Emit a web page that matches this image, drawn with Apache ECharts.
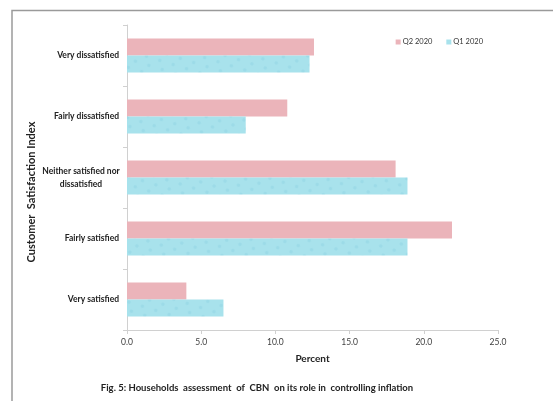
<!DOCTYPE html>
<html>
<head>
<meta charset="utf-8">
<script src="https://cdn.jsdelivr.net/npm/echarts@6/dist/echarts.min.js"></script>
<style>
  html, body { margin: 0; padding: 0; background: #fff; }
  #chart { width: 553px; height: 401px; }
</style>
</head>
<body>
<div id="chart"></div>
<script>
// Satisfaction categories, listed bottom to top as drawn on the vertical axis
const categories = [
  'Very satisfied',
  'Fairly satisfied',
  'Neither satisfied nor\ndissatisfied',
  'Fairly dissatisfied',
  'Very dissatisfied'
];
// Percent of households per category
const q1_2020 = [6.5, 18.9, 18.9, 8.0, 12.3];
const q2_2020 = [4.0, 21.9, 18.1, 10.8, 12.6];
const xTicks = [0, 5, 10, 15, 20, 25];

const FONT = 'Lato, "Open Sans", sans-serif';
const labelBase = { fontFamily: FONT, fontSize: 8.5, fontWeight: 'bold', color: '#222', lineHeight: 13 };

const chart = echarts.init(document.getElementById('chart'), null, { renderer: 'canvas' });

chart.setOption({
  animation: false,
  backgroundColor: '#ffffff',
  grid: { left: 127, right: 55, top: 25, bottom: 71, containLabel: false },
  legend: {
    data: ['Q2 2020', 'Q1 2020'],
    right: 65,
    top: 33,
    itemWidth: 5,
    itemHeight: 5,
    itemGap: 14,
    icon: 'rect',
    textStyle: { fontFamily: FONT, fontSize: 7.5, color: '#333', padding: [0, 0, 0, -3] }
  },
  xAxis: {
    type: 'value',
    min: xTicks[0],
    max: xTicks[xTicks.length - 1],
    interval: 5,
    name: 'Percent',
    nameLocation: 'middle',
    nameGap: 24,
    nameTextStyle: { fontFamily: FONT, fontSize: 10, fontWeight: 'bold', color: '#222' },
    axisLine: { show: true, lineStyle: { color: '#d0d0d0' } },
    axisTick: { show: true, length: 4, lineStyle: { color: '#d0d0d0' } },
    axisLabel: {
      fontFamily: FONT, fontSize: 8.5, color: '#404040', margin: 8,
      formatter: v => v.toFixed(1)
    },
    splitLine: { show: false }
  },
  yAxis: {
    type: 'category',
    data: categories,
    axisLine: { show: true, lineStyle: { color: '#d0d0d0' } },
    axisTick: { show: true, length: 4, lineStyle: { color: '#d0d0d0' } },
    axisLabel: {
      margin: 8,
      // multi-line label is centred line by line; single-line labels sit flush right
      formatter: v => (v.indexOf('\n') >= 0 ? '{c|' + v + '}' : '{r|' + v + '}'),
      rich: {
        c: Object.assign({ width: 76, align: 'center' }, labelBase),
        r: Object.assign({ align: 'right' }, labelBase)
      }
    }
  },
  series: [
    {
      name: 'Q2 2020',
      type: 'bar',
      data: q2_2020,
      barGap: '0%',
      barCategoryGap: '44%',
      itemStyle: { color: '#ebb4ba' }
    },
    {
      name: 'Q1 2020',
      type: 'bar',
      data: q1_2020,
      itemStyle: {
        color: '#a8e2ec',
        decal: {
          symbol: 'circle',
          symbolSize: 0.7,
          color: 'rgba(80,170,200,0.13)',
          dashArrayX: [[5, 9], [0, 5, 5, 4]],
          dashArrayY: [5, 3],
          rotation: 0.3
        }
      }
    }
  ],
  graphic: [
    {
      type: 'polyline',
      shape: { points: [[12, 401], [12, 10.5], [553, 10.5]] },
      style: { stroke: '#9a9a9a', lineWidth: 1.5, fill: null }
    },
    {
      type: 'text',
      x: 31,
      y: 192,
      rotation: Math.PI / 2,
      style: {
        text: 'Customer  Satisfaction Index',
        font: 'bold 11px ' + FONT,
        fill: '#222',
        align: 'center',
        verticalAlign: 'middle'
      }
    },
    {
      type: 'text',
      x: 257,
      y: 383,
      style: {
        text: 'Fig. 5: Households  assessment  of  CBN  on its role in  controlling inflation',
        font: 'bold 9.5px ' + FONT,
        fill: '#222',
        align: 'center'
      }
    }
  ]
});
</script>
</body>
</html>
